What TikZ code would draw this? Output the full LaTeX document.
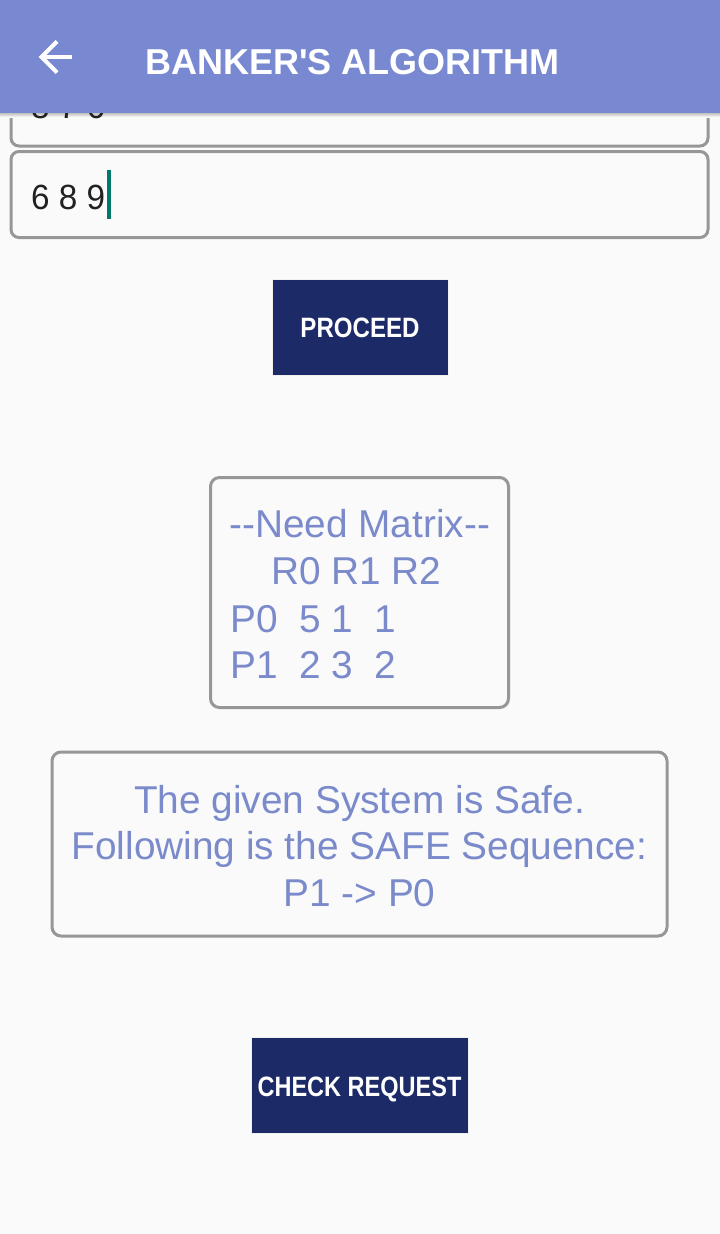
\documentclass[tikz,border=0pt]{standalone}
\usepackage{fontspec}
\setmainfont{Liberation Sans}[Ligatures=TeXOff]
\definecolor{bg}{HTML}{FAFAFA}
\definecolor{hdr}{HTML}{7889D2}
\definecolor{btn}{HTML}{1C2A68}
\definecolor{frame}{HTML}{979797}
\definecolor{txt}{HTML}{7A8ACB}
\definecolor{cur}{HTML}{00796B}
\definecolor{ink}{HTML}{212121}
\begin{document}
\begin{tikzpicture}[x=1pt,y=-1pt,
  field/.style={draw=frame, line width=3pt, rounded corners=8pt, fill=bg, inner sep=0, minimum width=697pt, minimum height=86pt},
  card/.style={draw=frame, line width=3pt, rounded corners=9pt, fill=bg, inner sep=0},
  btnbox/.style={fill=btn, draw=black!6, line width=1pt, inner sep=0},
  btntext/.style={text=white, font=\fontsize{28}{32}\selectfont\bfseries, inner sep=0, anchor=base},
  lbl/.style={text=txt, font=\fontsize{38.8}{46}\selectfont, inner sep=0, anchor=base west},
  ctr/.style={text=txt, font=\fontsize{38.8}{46}\selectfont, inner sep=0, anchor=base},
  entry/.style={text=ink, font=\fontsize{35}{40}\selectfont, inner sep=0, anchor=base west},
]
\useasboundingbox (0,0) rectangle (720,1234);
\fill[bg] (0,0) rectangle (720,1234);

% first (scrolled) text field
\node[field] (field1) at (359.5,103) {};
\shade[top color=black!30, bottom color=bg] (0,112) rectangle (720,117);
\node[entry] (field1text) at (31,118) {\scalebox{0.95}[1]{8 7 6}};

% header bar
\fill[hdr] (0,0) rectangle (720,113);
\draw[white, line width=4pt, line join=miter] (72,57) -- (41,57);
\draw[white, line width=4pt, line join=miter] (57,41.5) -- (41.5,57) -- (57,72.5);
\node[text=white, font=\fontsize{36}{40}\selectfont\bfseries, inner sep=0, anchor=base west] (title) at (145,74) {BANKER'S ALGORITHM};

% second text field
\node[field] (field2) at (359.5,194.5) {};
\node[entry] (field2text) at (31,209) {\scalebox{0.95}[1]{6 8 9}};
\fill[cur] (107,170) rectangle (111,219);

% proceed button
\node[btnbox, minimum width=176pt, minimum height=96pt] (proceed) at (360,327) {};
\node[btntext] (proceedtext) at (360,337.5) {\scalebox{0.86}[1]{PROCEED}};

% need matrix card
\node[card, minimum width=298pt, minimum height=230pt] (need) at (359.5,592.5) {};
\node[lbl] (needtitle) at (229,537) {--Need Matrix--};
\node[lbl] (needhead) at (271,584) {R0 R1 R2};
\node[lbl] (needp0) at (230,632) {P0\ \ 5 1\ \ 1};
\node[lbl] (needp1) at (230,678) {P1\ \ 2 3\ \ 2};

% safe card
\node[card, minimum width=615pt, minimum height=184pt] (safe) at (359.5,844) {};
\node[ctr] (safe1) at (359.5,813) {The given System is Safe.};
\node[ctr] (safe2) at (359.5,859) {Following is the SAFE Sequence:};
\node[ctr] (safe3) at (359.5,906) {P1 -> P0};

% check request button
\node[btnbox, minimum width=217pt, minimum height=96pt] (check) at (359.5,1085.5) {};
\node[btntext] (checktext) at (359.5,1096.5) {\scalebox{0.84}[1]{CHECK REQUEST}};
\end{tikzpicture}
\end{document}
